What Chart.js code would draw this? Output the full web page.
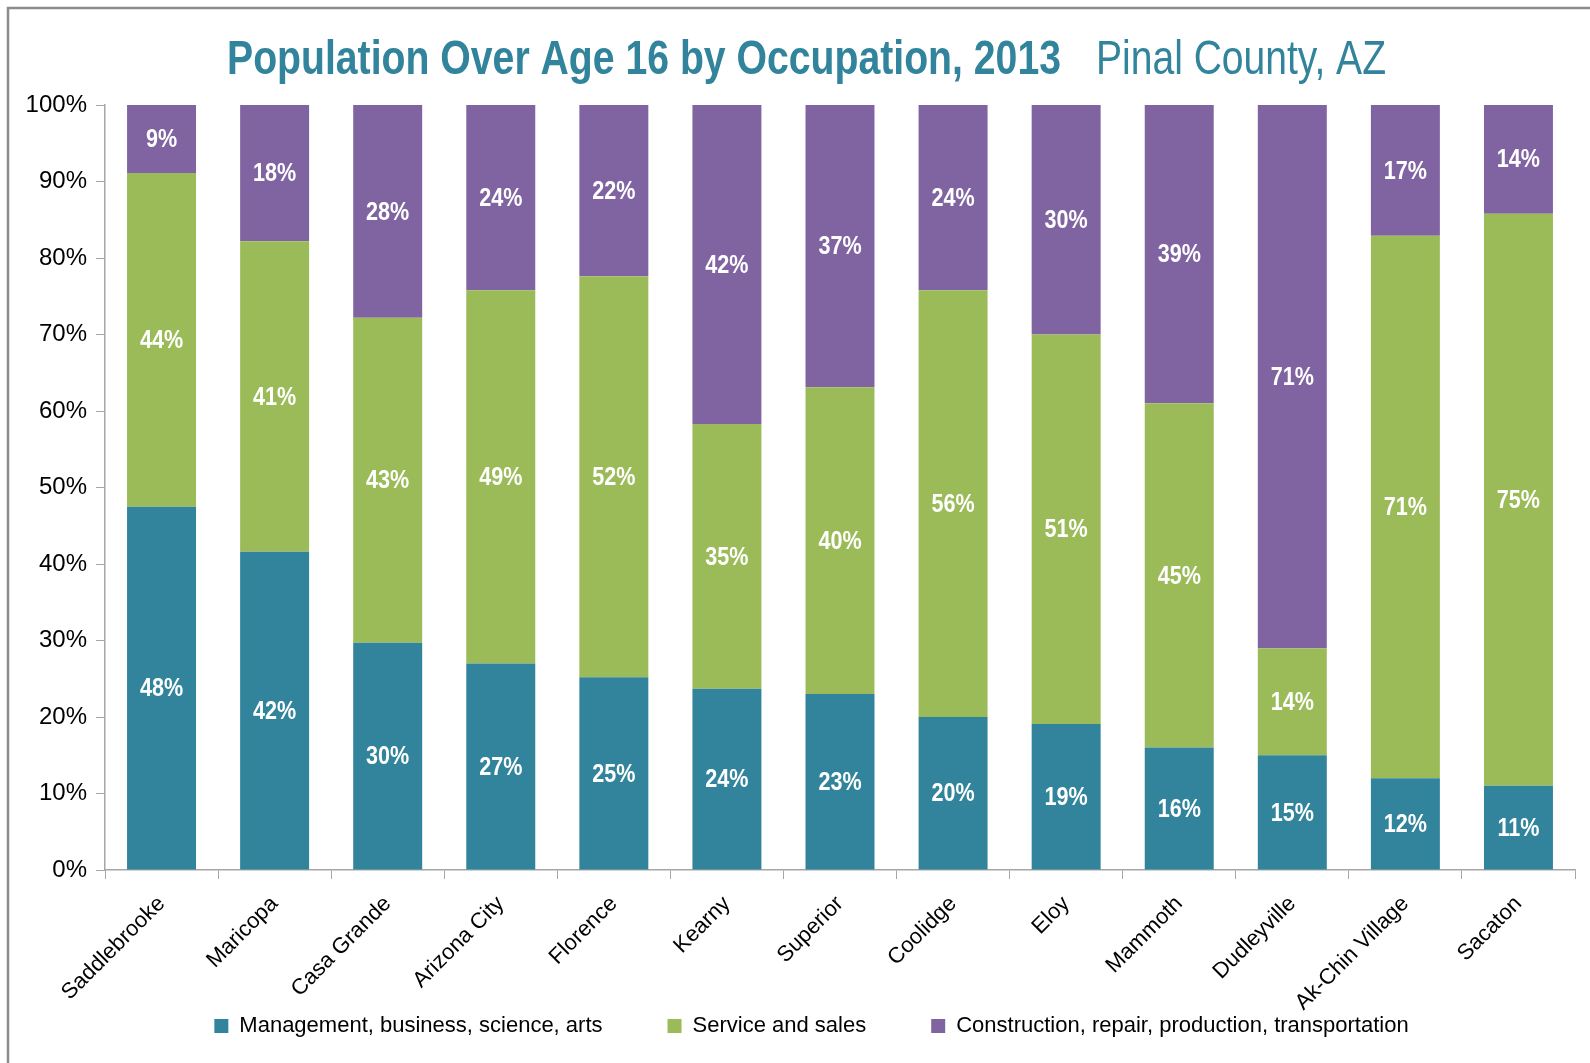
<!DOCTYPE html>
<html>
<head>
<meta charset="utf-8">
<title>Population Over Age 16 by Occupation, 2013</title>
<script src="https://cdn.jsdelivr.net/npm/chart.js@4.4.1/dist/chart.umd.min.js"></script>
<style>
  html, body { margin: 0; padding: 0; background: #fff; }
  #wrap { position: relative; width: 1590px; height: 1063px; }
</style>
</head>
<body>
<div id="wrap"><canvas id="myChart" width="1590" height="1063"></canvas></div>
<script>
// data (percent of population over 16)
const categories = ["Saddlebrooke", "Maricopa", "Casa Grande", "Arizona City", "Florence", "Kearny",
  "Superior", "Coolidge", "Eloy", "Mammoth", "Dudleyville", "Ak-Chin Village", "Sacaton"];
const managementValues = [47.5, 41.6, 29.7, 27.0, 25.2, 23.7, 23.0, 20.0, 19.1, 16.0, 15.0, 12.0, 11.0];
const serviceValues = [43.6, 40.6, 42.5, 48.8, 52.4, 34.6, 40.1, 55.8, 50.9, 45.0, 14.0, 70.9, 74.8];
const constructionValues = [8.9, 17.8, 27.8, 24.2, 22.4, 41.7, 36.9, 24.2, 30.0, 39.0, 71.0, 17.1, 14.2];
const seriesNames = ["Management, business, science, arts", "Service and sales",
  "Construction, repair, production, transportation"];
const titleBold = "Population Over Age 16 by Occupation, 2013";
const titleLight = "Pinal County, AZ";

const FONT = "'Liberation Sans', Arial, sans-serif";
const teal = "#31849B";

// frame + two-part title
const titlePlugin = {
  id: "titlePlugin",
  afterLayout(chart) {
    // let the long rotated labels run down past the axis box (no clipping),
    // and nudge the legend a bit to the right like the original
    chart.scales.x.bottom = chart.height;
    chart.legend.left += 24;
    chart.legend.right += 24;
  },
  beforeDraw(chart) {
    const ctx = chart.ctx;
    ctx.save();
    ctx.fillStyle = "#fff";
    ctx.fillRect(0, 0, chart.width, chart.height);
    ctx.strokeStyle = "#8c8c8c";
    ctx.lineWidth = 2.5;
    ctx.beginPath();
    ctx.moveTo(8, chart.height);
    ctx.lineTo(8, 8);
    ctx.lineTo(chart.width, 8);
    ctx.stroke();
    ctx.restore();
  },
  afterDraw(chart) {
    const ctx = chart.ctx;
    const parts = [
      { text: titleBold, font: "bold 48px " + FONT, x: 227, w: 834 },
      { text: titleLight, font: "48px " + FONT, x: 1096, w: 290 }
    ];
    ctx.save();
    ctx.fillStyle = teal;
    ctx.textBaseline = "alphabetic";
    parts.forEach((p) => {
      ctx.font = p.font;
      const m = ctx.measureText(p.text).width;
      ctx.save();
      ctx.translate(p.x, 74);
      ctx.scale(p.w / m, 1);
      ctx.fillText(p.text, 0, 0);
      ctx.restore();
    });
    ctx.restore();
  }
};

// white percent labels in the middle of each segment (narrow bold look)
const labelPlugin = {
  id: "labelPlugin",
  afterDatasetsDraw(chart) {
    const ctx = chart.ctx;
    ctx.save();
    ctx.font = "bold 26px " + FONT;
    ctx.fillStyle = "#fff";
    ctx.textAlign = "center";
    ctx.textBaseline = "middle";
    chart.data.datasets.forEach((ds, i) => {
      chart.getDatasetMeta(i).data.forEach((bar, j) => {
        const y = (bar.y + bar.base) / 2;
        ctx.save();
        ctx.translate(bar.x, y + 1);
        ctx.scale(0.83, 1);
        ctx.fillText(Math.round(ds.data[j]) + "%", 0, 0);
        ctx.restore();
      });
    });
    ctx.restore();
  }
};

function initChart(target) {
  const data = {
    labels: categories,
    datasets: [
      { label: seriesNames[0], data: managementValues, backgroundColor: "#31849B" },
      { label: seriesNames[1], data: serviceValues, backgroundColor: "#9BBB59" },
      { label: seriesNames[2], data: constructionValues, backgroundColor: "#8064A2" }
    ]
  };

  const config = {
    type: "bar",
    data: data,
    options: {
      responsive: false,
      animation: false,
      devicePixelRatio: 1,
      datasets: { bar: { categoryPercentage: 1, barPercentage: 0.61 } },
      layout: { padding: { top: 105, right: 15, bottom: 16, left: 0 } },
      plugins: {
        title: { display: false },
        tooltip: { enabled: false },
        legend: {
          position: "bottom",
          labels: {
            boxWidth: 14,
            boxHeight: 14,
            padding: 10,
            color: "#000",
            font: { family: FONT, size: 22 },
            generateLabels(chart) {
              const items = Chart.defaults.plugins.legend.labels.generateLabels(chart);
              items.forEach((it, i) => {
                it.lineWidth = 0;
                if (i < items.length - 1) it.text = it.text + "         ";
              });
              return items;
            }
          }
        }
      },
      scales: {
        x: {
          stacked: true,
          grid: { drawOnChartArea: false, drawTicks: true, tickLength: 9, color: "#a6a6a6", offset: true },
          border: { color: "#a6a6a6", width: 1.5 },
          ticks: {
            color: "#000",
            font: { family: FONT, size: 22 },
            minRotation: 45,
            maxRotation: 45,
            autoSkip: false,
            padding: 12
          },
          afterFit(scale) { scale.height = 135; }
        },
        y: {
          stacked: true,
          min: 0,
          max: 100,
          grid: { drawOnChartArea: false, drawTicks: true, tickLength: 9, color: "#a6a6a6" },
          border: { color: "#a6a6a6", width: 1.5 },
          ticks: {
            stepSize: 10,
            color: "#000",
            padding: 9,
            font: { family: FONT, size: 24 },
            callback: (v) => v + "%"
          },
          afterFit(scale) { scale.width = 105; }
        }
      }
    },
    plugins: [titlePlugin, labelPlugin]
  };

  return new Chart(target, config);
}

document.addEventListener("DOMContentLoaded", () => {
  initChart(document.querySelector("#myChart"));
});
</script>
</body>
</html>
